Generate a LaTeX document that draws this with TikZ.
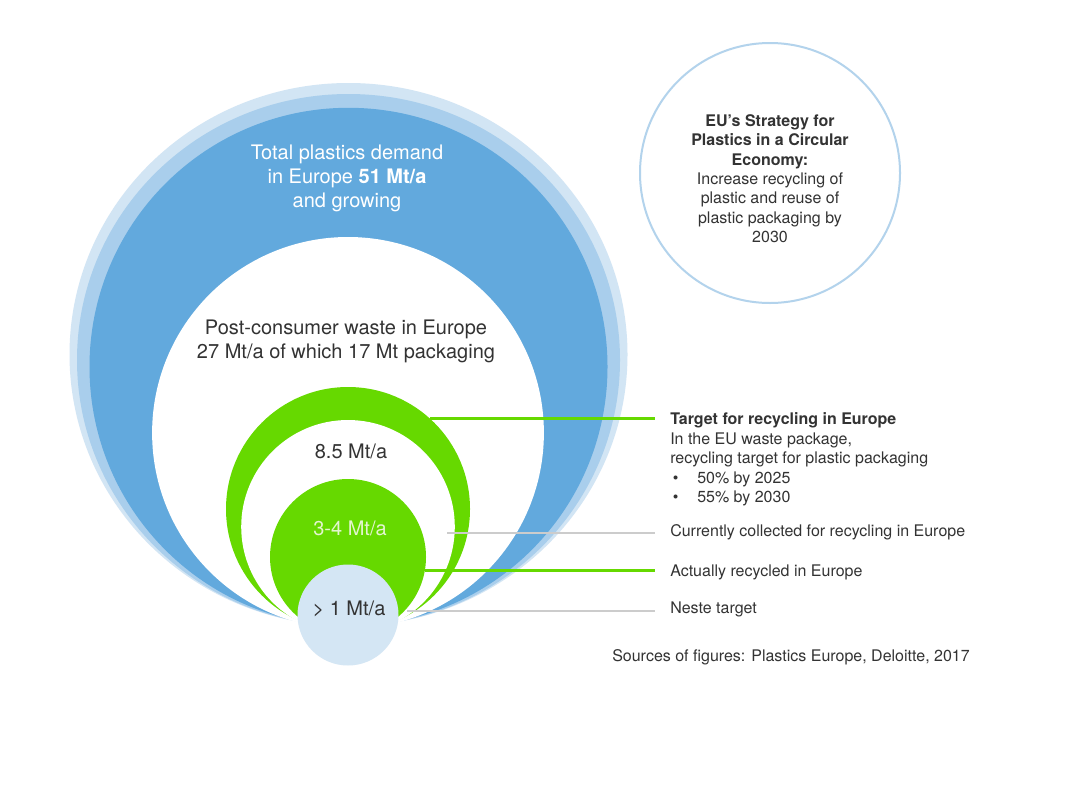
\documentclass[tikz,border=0pt]{standalone}
\usepackage{fontspec}
\setmainfont{TeX Gyre Heros}
\definecolor{bluemain}{HTML}{62A9DD}
\definecolor{bluemid}{HTML}{A9CEEC}
\definecolor{bluelight}{HTML}{D2E5F4}
\definecolor{greenring}{HTML}{66D900}
\definecolor{paleblue}{HTML}{D4E6F4}
\definecolor{rimblue}{HTML}{B3D3EC}
\definecolor{linegray}{HTML}{CCCCCC}
\definecolor{txt}{HTML}{333333}
\definecolor{palegreen}{HTML}{E3F5CF}
\begin{document}
\begin{tikzpicture}[x=0.75pt, y=-0.75pt,
    big/.style={font=\fontsize{15}{18}\selectfont, text=txt, inner sep=0, align=center},
    small/.style={font=\fontsize{12}{14.6}\selectfont, text=txt},
    lbl/.style={small, anchor=base west, inner ysep=0, inner xsep=11.25pt},
    greenlink/.style={draw=greenring, line width=2.25pt},
    graylink/.style={draw=linegray, line width=2pt}]
  \fill[white] (0,0) rectangle (1080,810);
  % blue rings
  \fill[bluelight] (348.5,354.5) ellipse [x radius=279, y radius=271.5];
  \fill[bluemid] (348.5,360) ellipse [x radius=271.5, y radius=266];
  \fill[bluemain] (348.5,366.8) circle [radius=259];
  \fill[white] (348,432.9) circle [radius=195.9];
  % green rings
  \fill[greenring] (348,509) circle [radius=122];
  \fill[white] (348,526.8) circle [radius=106.8];
  \fill[greenring] (348,557) circle [radius=78];
  \fill[paleblue] (348,615) circle [radius=50.5];
  % strategy bubble
  \draw[rimblue, line width=1.5pt] (770,173) circle [radius=130];

  \node[big, text=white, anchor=north] (demand) at (347,145)
    {Total plastics demand\\in Europe \textbf{51 Mt/a}\\and growing};
  \node[big, anchor=north] (waste) at (346,320)
    {Post-consumer waste in Europe\\27 Mt/a of which 17 Mt packaging};
  \node[big, anchor=base] (target-val) at (351,458) {8.5 Mt/a};
  \node[big, anchor=base, text=palegreen] (collect-val) at (350,535) {3-4 Mt/a};
  \node[big, anchor=base] (neste-val) at (349,615) {> 1 Mt/a};
  \node[small, align=center, anchor=north, inner sep=0] (strategy) at (770,114)
    {\textbf{EU’s Strategy for}\\\textbf{Plastics in a Circular}\\\textbf{Economy:}\\Increase recycling of\\plastic and reuse of\\plastic packaging by\\2030};

  % labels on the right
  \node[lbl, font=\fontsize{12}{14.6}\selectfont\bfseries] (target) at (655,424) {Target for recycling in Europe};
  \node[lbl, align=left, anchor=north west] (target-text) at (655,432.5)
    {In the EU waste package,\\recycling target for plastic packaging\\
     \makebox[20.25pt][l]{\hspace*{2pt}\textbullet}50\% by 2025\\
     \makebox[20.25pt][l]{\hspace*{2pt}\textbullet}55\% by 2030};
  \node[lbl] (collect) at (655,536) {Currently collected for recycling in Europe};
  \node[lbl] (recycled) at (655,576) {Actually recycled in Europe};
  \node[lbl] (neste) at (655,613) {Neste target};
  \node[small, anchor=base west, inner sep=0] (sources) at (612,661)
    {Sources of figures: Plastics Europe, Deloitte, 2017};

  \coordinate (target-pt) at (430,418);
  \coordinate (collect-pt) at (447,533);
  \coordinate (recycled-pt) at (425,570);
  \coordinate (neste-pt) at (407,611);
  \draw[greenlink] (target-pt) -- (target-pt -| target.west);
  \draw[graylink] (collect-pt) -- (collect-pt -| collect.west);
  \draw[greenlink] (recycled-pt) -- (recycled-pt -| recycled.west);
  \draw[graylink] (neste-pt) -- (neste-pt -| neste.west);
\end{tikzpicture}
\end{document}
